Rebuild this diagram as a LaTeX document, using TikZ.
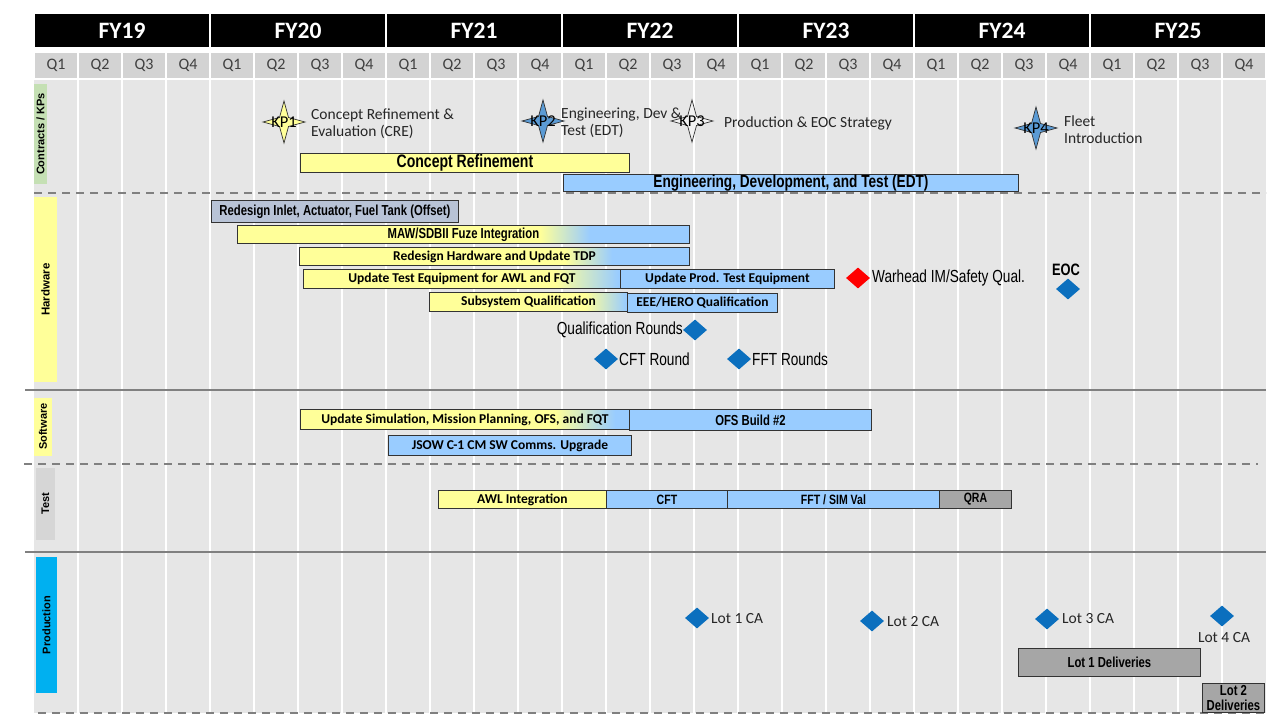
\documentclass[tikz,border=0pt]{standalone}
\usepackage{fontspec}
\setmainfont{Carlito}
\newfontfamily\narrowfont[FakeStretch=0.78]{Liberation Sans}
\newfontfamily\arialfont{Liberation Sans}
\usetikzlibrary{shapes.geometric}

\definecolor{bodygray}{HTML}{E6E6E6}
\definecolor{qgray}{HTML}{D3D3D3}
\definecolor{qtext}{HTML}{404040}
\definecolor{barY}{HTML}{FFFF99}
\definecolor{barB}{HTML}{99CCFF}
\definecolor{barSteel}{HTML}{B8C3D6}
\definecolor{barGray}{HTML}{A6A6A6}
\definecolor{edge}{HTML}{333333}
\definecolor{msBlue}{HTML}{0B6FBE}
\definecolor{msRed}{HTML}{FF0000}
\definecolor{tabGreen}{HTML}{C5E0B4}
\definecolor{tabYellow}{HTML}{FFFF99}
\definecolor{tabGray}{HTML}{D6D6D6}
\definecolor{tabBlue}{HTML}{00B0F0}
\definecolor{ruleGray}{HTML}{808080}
\definecolor{starBlue}{HTML}{5B9BD5}
\definecolor{starWhite}{HTML}{F2F2F2}
\definecolor{txtdark}{HTML}{262626}

\tikzset{
  nb/.style={font=\narrowfont\bfseries\fontsize{#1}{#1}\selectfont},
  cb/.style={font=\bfseries\fontsize{#1}{#1}\selectfont},
  barbox/.style={draw=edge, line width=0.9pt, inner sep=0pt, anchor=north west, align=center},
  fyhead/.style={fill=black, draw=white, line width=2pt, minimum width=176, minimum height=35,
    inner sep=0pt, text=white, font=\bfseries\fontsize{23.5}{23.5}\selectfont},
  qcell/.style={fill=qgray, draw=white, line width=2pt, minimum width=44, minimum height=27,
    inner sep=0pt, text=qtext, font=\fontsize{16}{16}\selectfont},
  tab/.style={rotate=90, inner sep=0pt, font=\arialfont\bfseries\fontsize{11}{11}\selectfont},
  mtext/.style={font=\fontsize{15.5}{17}\selectfont, text=txtdark, inner sep=0pt, align=left},
  ntext/.style={font=\narrowfont\fontsize{17.5}{19}\selectfont, text=black, inner sep=0pt},
  kplabel/.style={font=\fontsize{16.5}{16.5}\selectfont, text=black, inner sep=0pt},
  msdia/.style={diamond, fill=msBlue, minimum width=24, minimum height=21, inner sep=0pt},
  hrule/.style={draw=ruleGray, line width=2.4pt},
  drule/.style={draw=ruleGray, line width=1.5pt, dash pattern=on 8pt off 6pt},
}

% plain bar: name, x1, y1, x2, y2, options, text
\newcommand{\taskbar}[7]{%
  \node[barbox, #6, minimum width={#4-#2}, minimum height={#5-#3}] (#1) at (#2,#3) {#7};}
% yellow-to-blue bar: name, x1, y1, x2, y2, fade start, fade end, options, text
\newcommand{\gradbar}[9]{%
  \fill[barY] (#2,#3) rectangle (#6,#5);
  \shade[left color=barY, right color=barB] (#6,#3) rectangle (#7,#5);
  \fill[barB] (#7,#3) rectangle (#4,#5);
  \node[barbox, #8, minimum width={#4-#2}, minimum height={#5-#3}] (#1) at (#2,#3) {#9};}
% four-point key-point star: name, x, y, fill, label
\newcommand{\kpstar}[5]{%
  \filldraw[fill=#4, draw=edge, line width=0.7pt] (#2,#3) ++(0,-21) -- ++(4.5,16.5) -- ++(16.5,4.5)
    -- ++(-16.5,4.5) -- ++(-4.5,16.5) -- ++(-4.5,-16.5) -- ++(-16.5,-4.5) -- ++(16.5,-4.5) -- cycle;
  \node[kplabel] (#1) at (#2,#3) {#5};}

\begin{document}
\begin{tikzpicture}[x=1pt, y=-1pt]
\useasboundingbox (0,0) rectangle (1280,720);
\fill[white] (0,0) rectangle (1280,720);

% fiscal-year header
\foreach \k/\fy in {0/19,1/20,2/21,3/22,4/23,5/24,6/25}
  \node[fyhead] (fy\fy) at ({122+176*\k},30.5) {FY\fy};
% quarter row
\foreach \i in {0,...,27} {
  \pgfmathtruncatemacro\qn{mod(\i,4)+1}
  \node[qcell] (q\i) at ({56+44*\i},65.5) {Q\qn};
}

% chart body with quarter grid
\fill[bodygray] (34,80) rectangle (1266,713);
\foreach \i in {1,...,27}
  \draw[white, line width=1.8pt] ({34+44*\i},80) -- ({34+44*\i},713);

% section separators
\draw[drule] (34,193) -- (1266,193);
\draw[hrule] (25,390) -- (1266,390);
\draw[drule] (24,464) -- (1258,464);
\draw[hrule] (25,552) -- (1266,552);
\draw[drule] (38,713) -- (1266,713);

% section tabs
\node[tab, fill=tabGreen, minimum width=100, minimum height=13] (tabc) at (40.5,134) {Contracts / KPs};
\node[tab, fill=tabYellow, minimum width=185, minimum height=23, font=\arialfont\bfseries\fontsize{11.5}{11.5}\selectfont] (tabh) at (45.5,289.5) {Hardware};
\node[tab, fill=tabYellow, minimum width=58, minimum height=18] (tabs) at (43,426.5) {Software};
\node[tab, fill=tabGray, minimum width=72, minimum height=19] (tabt) at (45.5,504) {Test};
\node[tab, fill=tabBlue, minimum width=136, minimum height=21] (tabp) at (46.5,625) {Production};

% contracts and key points
\kpstar{kp1}{284}{122}{barY}{KP1}
\kpstar{kp2}{543}{121}{starBlue}{KP2}
\kpstar{kp3}{692}{121}{starWhite}{KP3}
\kpstar{kp4}{1036}{128}{starBlue}{KP4}
\node[mtext, anchor=west] (cre) at (311,124) {Concept Refinement \&\\Evaluation (CRE)};
\node[mtext, anchor=west] (edt) at (561,123) {Engineering, Dev \&\\Test (EDT)};
\node[mtext, anchor=west] (peoc) at (724,123) {Production \& EOC Strategy};
\node[mtext, anchor=west] (fleet) at (1064,130) {Fleet\\Introduction};
\taskbar{cr}{300}{153}{629}{172}{fill=barY, nb=18}{Concept Refinement}
\taskbar{edtbar}{563}{174}{1018}{191}{fill=barB, nb=17.5}{Engineering, Development, and Test (EDT)}

% hardware
\taskbar{inlet}{211}{200}{458}{222}{fill=barSteel, nb=14.5}{Redesign Inlet, Actuator, Fuel Tank (Offset)}
\gradbar{maw}{237}{225}{689}{243}{540}{590}{nb=14.5}{MAW/SDBII Fuze Integration}
\gradbar{rhw}{299}{247}{689}{265}{565}{612}{cb=13.5}{Redesign Hardware and Update TDP}
\gradbar{ute}{303}{269}{620}{288}{555}{618}{cb=13.5}{Update Test Equipment for AWL and FQT}
\taskbar{upte}{620}{269}{834}{288}{fill=barB, cb=13.5}{Update Prod. Test Equipment}
\gradbar{ssq}{429}{292}{627}{311}{585}{626}{cb=13.5}{Subsystem Qualification}
\taskbar{eee}{627}{293}{777}{312}{fill=barB, cb=13.5}{EEE/HERO Qualification}
\node[msdia] (dqr) at (695,330) {};
\node[ntext, anchor=east] (tqr) at (683,330) {Qualification Rounds};
\node[msdia] (dcft) at (606,359) {};
\node[ntext, anchor=west] (tcft) at (619,359) {CFT Round};
\node[msdia] (dfft) at (739,359) {};
\node[ntext, anchor=west] (tfft) at (752,359) {FFT Rounds};
\node[msdia, fill=msRed] (dwh) at (858,278) {};
\node[ntext, anchor=west] (twh) at (872,278) {Warhead IM/Safety Qual.};
\node[ntext, font=\narrowfont\bfseries\fontsize{16.5}{16.5}\selectfont] (teoc) at (1066,270) {EOC};
\node[msdia] (deoc) at (1068,289) {};

% software
\gradbar{usim}{300}{409}{629}{429}{555}{615}{cb=13.5}{Update Simulation, Mission Planning, OFS, and FQT}
\taskbar{ofs}{629}{409}{871}{430}{fill=barB, nb=14.5}{OFS Build \#2}
\taskbar{jsow}{388}{435}{631}{455}{fill=barB, cb=13.5}{JSOW C-1 CM SW Comms. Upgrade}

% test
\taskbar{awl}{438}{490}{606}{508}{fill=barY, cb=13.5}{AWL Integration}
\taskbar{cftbar}{606}{490}{727}{508}{fill=barB, nb=13.5}{CFT}
\taskbar{fftbar}{727}{490}{939}{508}{fill=barB, nb=13.5}{FFT / SIM Val}
\taskbar{qra}{939}{490}{1011}{508}{fill=barGray, nb=13.5}{QRA}

% production
\node[msdia] (dl1) at (697,618) {};
\node[mtext, anchor=west] (tl1) at (711,619) {Lot 1 CA};
\node[msdia] (dl2) at (872,621) {};
\node[mtext, anchor=west] (tl2) at (887,622) {Lot 2 CA};
\node[msdia] (dl3) at (1047,619) {};
\node[mtext, anchor=west] (tl3) at (1062,619) {Lot 3 CA};
\node[msdia] (dl4) at (1222,616) {};
\node[mtext] (tl4) at (1224,638) {Lot 4 CA};
\taskbar{lot1}{1018}{648}{1200}{676}{fill=barGray, nb=14.5}{Lot 1 Deliveries}
\taskbar{lot2}{1202}{683}{1264}{712}{fill=barGray, nb=14.5}{Lot 2\\Deliveries}
\end{tikzpicture}
\end{document}
